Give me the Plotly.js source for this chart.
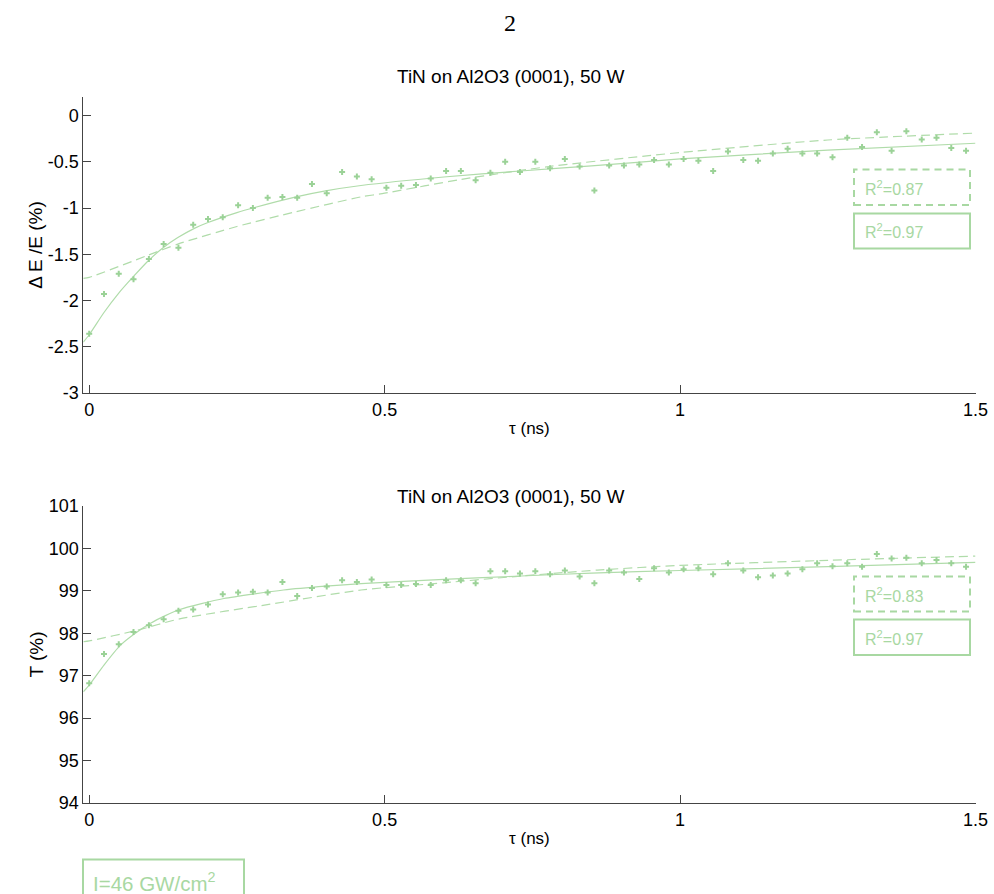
<!DOCTYPE html>
<html>
<head>
<meta charset="utf-8">
<script src="https://cdn.plot.ly/plotly-3.0.1.min.js"></script>
<style>html,body{margin:0;padding:0;background:#fff;}#chart{width:994px;height:894px;}</style>
</head>
<body>
<div id="chart"></div>
<script>
// Delay values (ns)
const tau = [0.000,0.025,0.050,0.075,0.101,0.126,0.151,0.176,0.201,0.226,0.252,0.277,0.302,0.327,0.352,0.377,0.402,0.428,0.453,0.478,0.503,0.528,0.553,0.578,0.604,0.629,0.654,0.679,0.704,0.729,0.755,0.780,0.805,0.830,0.855,0.880,0.905,0.931,0.956,0.981,1.006,1.031,1.056,1.081,1.107,1.132,1.157,1.182,1.207,1.232,1.258,1.283,1.308,1.333,1.358,1.383,1.409,1.434,1.459,1.484];

// Top panel: ΔE/E (%)
const dEE = [-2.36,-1.93,-1.71,-1.77,-1.55,-1.39,-1.43,-1.18,-1.12,-1.10,-0.97,-1.00,-0.89,-0.88,-0.89,-0.74,-0.84,-0.61,-0.66,-0.69,-0.78,-0.76,-0.75,-0.68,-0.60,-0.60,-0.70,-0.62,-0.50,-0.61,-0.50,-0.57,-0.47,-0.55,-0.81,-0.54,-0.54,-0.53,-0.48,-0.53,-0.47,-0.49,-0.60,-0.39,-0.48,-0.49,-0.41,-0.36,-0.41,-0.41,-0.45,-0.24,-0.34,-0.18,-0.38,-0.17,-0.26,-0.24,-0.35,-0.38];
const fitTopSolidX = [-0.01,0.000,0.025,0.050,0.075,0.100,0.125,0.150,0.178,0.200,0.250,0.280,0.350,0.400,0.460,0.600,0.730,0.850,1.000,1.250,1.500];
const fitTopSolidY = [-2.45,-2.37,-2.13,-1.92,-1.74,-1.57,-1.43,-1.32,-1.22,-1.16,-1.05,-0.995,-0.88,-0.815,-0.757,-0.665,-0.60,-0.545,-0.47,-0.375,-0.30];
const fitTopDashX = [-0.01,0.000,0.100,0.150,0.250,0.350,0.460,0.500,0.630,0.780,1.000,1.250,1.500];
const fitTopDashY = [-1.76,-1.75,-1.51,-1.39,-1.20,-1.04,-0.88,-0.84,-0.69,-0.55,-0.40,-0.265,-0.19];

// Bottom panel: T (%)
const Tpct = [96.82,97.51,97.74,98.03,98.19,98.33,98.53,98.56,98.68,98.92,98.96,98.98,98.96,99.21,98.88,99.07,99.10,99.25,99.21,99.27,99.14,99.14,99.16,99.14,99.25,99.25,99.18,99.46,99.46,99.41,99.46,99.39,99.48,99.34,99.18,99.48,99.43,99.28,99.53,99.43,99.51,99.53,99.39,99.65,99.48,99.32,99.36,99.41,99.51,99.65,99.58,99.65,99.57,99.87,99.76,99.78,99.65,99.73,99.65,99.57];
const fitBotSolidX = [-0.01,0.000,0.025,0.053,0.078,0.103,0.128,0.153,0.190,0.228,0.280,0.329,0.400,0.460,0.600,0.731,0.850,1.000,1.250,1.500];
const fitBotSolidY = [96.62,96.78,97.25,97.72,98.00,98.23,98.41,98.56,98.70,98.82,98.93,99.02,99.11,99.17,99.27,99.35,99.42,99.48,99.57,99.67];
const fitBotDashX = [-0.01,0.000,0.078,0.153,0.304,0.460,0.600,0.731,0.860,1.000,1.250,1.500];
const fitBotDashY = [97.80,97.82,98.06,98.34,98.68,99.02,99.19,99.35,99.49,99.60,99.72,99.82];

const topTickVals = [-3,-2.5,-2,-1.5,-1,-0.5,0];
const topTickText = ['-3','-2.5','-2','-1.5','-1','-0.5','0'];
const botTickVals = [94,95,96,97,98,99,100,101];
const botTickText = ['94','95','96','97','98','99','100','101'];
const xTickVals = [0,0.5,1,1.5];
const xTickText = ['0','0.5','1','1.5'];

const markerColor = '#9bd297';
const lineColor = '#b0dcaa';
const boxColor = '#a8d8a2';
const W = 994, H = 894;
const px = v => v / W;
const py = v => 1 - v / H;
const sans = 'Liberation Sans, Arial, sans-serif';

const traces = [
  {x: fitTopDashX, y: fitTopDashY, xaxis:'x', yaxis:'y', mode:'lines', line:{color:lineColor, width:1.2, dash:'9px,5px', shape:'spline', smoothing:0.6}, hoverinfo:'skip'},
  {x: fitTopSolidX, y: fitTopSolidY, xaxis:'x', yaxis:'y', mode:'lines', line:{color:lineColor, width:1.2, shape:'spline', smoothing:0.6}, hoverinfo:'skip'},
  {x: tau, y: dEE, xaxis:'x', yaxis:'y', mode:'markers', marker:{symbol:'cross', size:5, color:markerColor}},
  {x: fitBotDashX, y: fitBotDashY, xaxis:'x2', yaxis:'y2', mode:'lines', line:{color:lineColor, width:1.2, dash:'9px,5px', shape:'spline', smoothing:0.6}, hoverinfo:'skip'},
  {x: fitBotSolidX, y: fitBotSolidY, xaxis:'x2', yaxis:'y2', mode:'lines', line:{color:lineColor, width:1.2, shape:'spline', smoothing:0.6}, hoverinfo:'skip'},
  {x: tau, y: Tpct, xaxis:'x2', yaxis:'y2', mode:'markers', marker:{symbol:'cross', size:5, color:markerColor}}
];

const tickFont = {family:sans, size:18, color:'#000'};
const axisCommon = {showline:true, linecolor:'#444', linewidth:1, ticks:'inside', ticklen:8, tickcolor:'#444', showgrid:false, zeroline:false, tickfont:tickFont, mirror:false};

const layout = {
  width: W, height: H,
  margin:{l:0,r:0,t:0,b:0},
  paper_bgcolor:'#fff', plot_bgcolor:'#fff',
  showlegend:false,
  xaxis: Object.assign({}, axisCommon, {domain:[px(83.3), px(975.5)], range:[-0.01,1.5], tickvals:xTickVals, ticktext:xTickText, anchor:'y',
    title:{text:'τ (ns)', font:{family:sans, size:17, color:'#000'}, standoff:3}}),
  yaxis: Object.assign({}, axisCommon, {domain:[py(393), py(97)], range:[-3,0.2], tickvals:topTickVals, ticktext:topTickText, anchor:'x',
    title:{text:'Δ E /E (%)', font:{family:sans, size:19, color:'#000'}, standoff:0}}),
  xaxis2: Object.assign({}, axisCommon, {domain:[px(83.3), px(975.5)], range:[-0.01,1.5], tickvals:xTickVals, ticktext:xTickText, anchor:'y2',
    title:{text:'τ (ns)', font:{family:sans, size:17, color:'#000'}, standoff:3}}),
  yaxis2: Object.assign({}, axisCommon, {domain:[py(803), py(506)], range:[94,101], tickvals:botTickVals, ticktext:botTickText, anchor:'x2',
    title:{text:'T (%)', font:{family:sans, size:19, color:'#000'}, standoff:0}}),
  annotations: [
    {text:'2', xref:'paper', yref:'paper', x:px(510), y:py(23), xanchor:'center', yanchor:'middle', showarrow:false, font:{family:'Liberation Serif, serif', size:24, color:'#000'}},
    {text:'TiN on Al2O3 (0001), 50 W', xref:'paper', yref:'paper', x:px(510), y:py(77), xanchor:'center', yanchor:'middle', showarrow:false, font:{family:sans, size:19, color:'#000'}},
    {text:'TiN on Al2O3 (0001), 50 W', xref:'paper', yref:'paper', x:px(510), y:py(497), xanchor:'center', yanchor:'middle', showarrow:false, font:{family:sans, size:19, color:'#000'}},
    {text:'R<sup>2</sup>=0.87', xref:'paper', yref:'paper', x:px(863), y:py(188), xanchor:'left', yanchor:'middle', showarrow:false, font:{family:sans, size:16, color:boxColor}},
    {text:'R<sup>2</sup>=0.97', xref:'paper', yref:'paper', x:px(863), y:py(231), xanchor:'left', yanchor:'middle', showarrow:false, font:{family:sans, size:16, color:boxColor}},
    {text:'R<sup>2</sup>=0.83', xref:'paper', yref:'paper', x:px(863), y:py(595), xanchor:'left', yanchor:'middle', showarrow:false, font:{family:sans, size:16, color:boxColor}},
    {text:'R<sup>2</sup>=0.97', xref:'paper', yref:'paper', x:px(863), y:py(638), xanchor:'left', yanchor:'middle', showarrow:false, font:{family:sans, size:16, color:boxColor}},
    {text:'I=46 GW/cm<sup>2</sup>', xref:'paper', yref:'paper', x:px(91), y:py(882), xanchor:'left', yanchor:'middle', showarrow:false, font:{family:sans, size:20.5, color:boxColor}}
  ],
  shapes: [
    {type:'rect', xref:'paper', yref:'paper', x0:px(854), x1:px(970), y0:py(205), y1:py(169.5), line:{color:boxColor, width:2, dash:'7px,5px'}},
    {type:'rect', xref:'paper', yref:'paper', x0:px(854), x1:px(970), y0:py(248.5), y1:py(213.5), line:{color:boxColor, width:2}},
    {type:'rect', xref:'paper', yref:'paper', x0:px(854), x1:px(970), y0:py(611.5), y1:py(576.5), line:{color:boxColor, width:2, dash:'7px,5px'}},
    {type:'rect', xref:'paper', yref:'paper', x0:px(854), x1:px(970), y0:py(655), y1:py(619.5), line:{color:boxColor, width:2}},
    {type:'rect', xref:'paper', yref:'paper', x0:px(83), x1:px(244), y0:py(900), y1:py(859.5), line:{color:boxColor, width:2}}
  ]
};

Plotly.newPlot('chart', traces, layout, {displayModeBar:false, staticPlot:true});
</script>
</body>
</html>
